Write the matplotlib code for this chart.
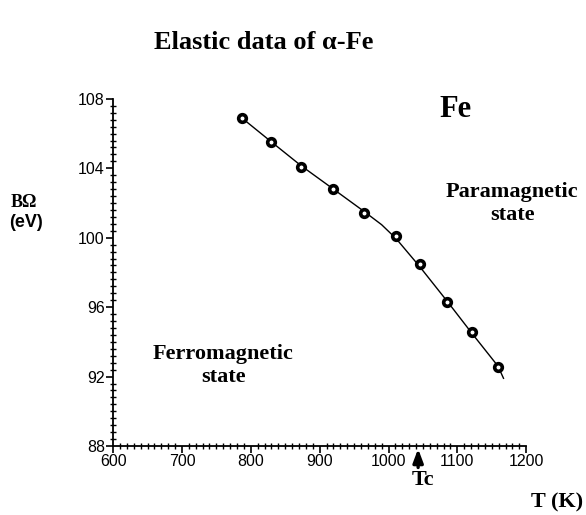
import matplotlib
matplotlib.use("Agg")
import matplotlib.pyplot as plt
from matplotlib.ticker import MultipleLocator

# measured points
temp = [787, 829, 873, 920, 965, 1011, 1045, 1085, 1121, 1159]
bq = [106.9, 105.5, 104.1, 102.8, 101.45, 100.1, 98.5, 96.3, 94.55, 92.55]

# fitted curve through the data
curve_t = [787, 829, 873, 920, 965, 990, 1011, 1045, 1085, 1121, 1159, 1167]
curve_bq = [106.9, 105.55, 104.15, 102.8, 101.5, 100.75, 99.95, 98.35, 96.35, 94.5, 92.6, 91.9]

tc = 1043

serif = ["Liberation Serif", "DejaVu Serif"]
sans = ["Liberation Sans", "DejaVu Sans"]

fig = plt.figure(figsize=(5.86, 5.15), dpi=100)
ax = fig.add_axes([0.193, 0.134, 0.705, 0.674])

ax.plot(curve_t, curve_bq, color="black", lw=1.0)
ax.plot(temp, bq, "o", ms=5.5, mfc="white", mec="black", mew=2.6)

ax.set_xlim(600, 1200)
ax.set_ylim(88, 108)
ax.xaxis.set_major_locator(MultipleLocator(100))
ax.xaxis.set_minor_locator(MultipleLocator(10))
ax.yaxis.set_major_locator(MultipleLocator(4))
ax.yaxis.set_minor_locator(MultipleLocator(0.4))
ax.tick_params(which="major", direction="out", length=5, width=1.2, labelsize=11.5, pad=1)
ax.tick_params(which="minor", direction="inout", length=4, width=1.0)
for lab in ax.get_xticklabels() + ax.get_yticklabels():
    lab.set_family(sans)

for s in ["top", "right"]:
    ax.spines[s].set_visible(False)
for s in ["left", "bottom"]:
    ax.spines[s].set_linewidth(1.3)

ax.annotate("", xy=(tc, 88), xytext=(tc, 86.6), annotation_clip=False,
            arrowprops=dict(arrowstyle="-|>,head_width=0.3,head_length=0.8", color="black", lw=2.4))

bold = dict(family=serif, fontweight="bold")
fig.text(0.45, 0.918, "Elastic data of α-Fe", ha="center", va="center", fontsize=19, **bold)
fig.text(0.777, 0.787, "Fe", ha="center", va="center", fontsize=22, **bold)
fig.text(0.874, 0.605, "Paramagnetic\nstate", ha="center", va="center", fontsize=16,
         linespacing=1.15, **bold)
fig.text(0.381, 0.291, "Ferromagnetic\nstate", ha="center", va="center", fontsize=16,
         linespacing=1.2, multialignment="center", **bold)
fig.text(0.041, 0.606, "BΩ", ha="center", va="center", fontsize=13, **bold)
fig.text(0.045, 0.567, "(eV)", ha="center", va="center", fontsize=13,
         family=sans, fontweight="bold")
fig.text(0.722, 0.068, "Tc", ha="center", va="center", fontsize=16, **bold)
fig.text(0.95, 0.025, "T (K)", ha="center", va="center", fontsize=16, **bold)

fig.savefig("out.png", dpi=100, facecolor="white")
